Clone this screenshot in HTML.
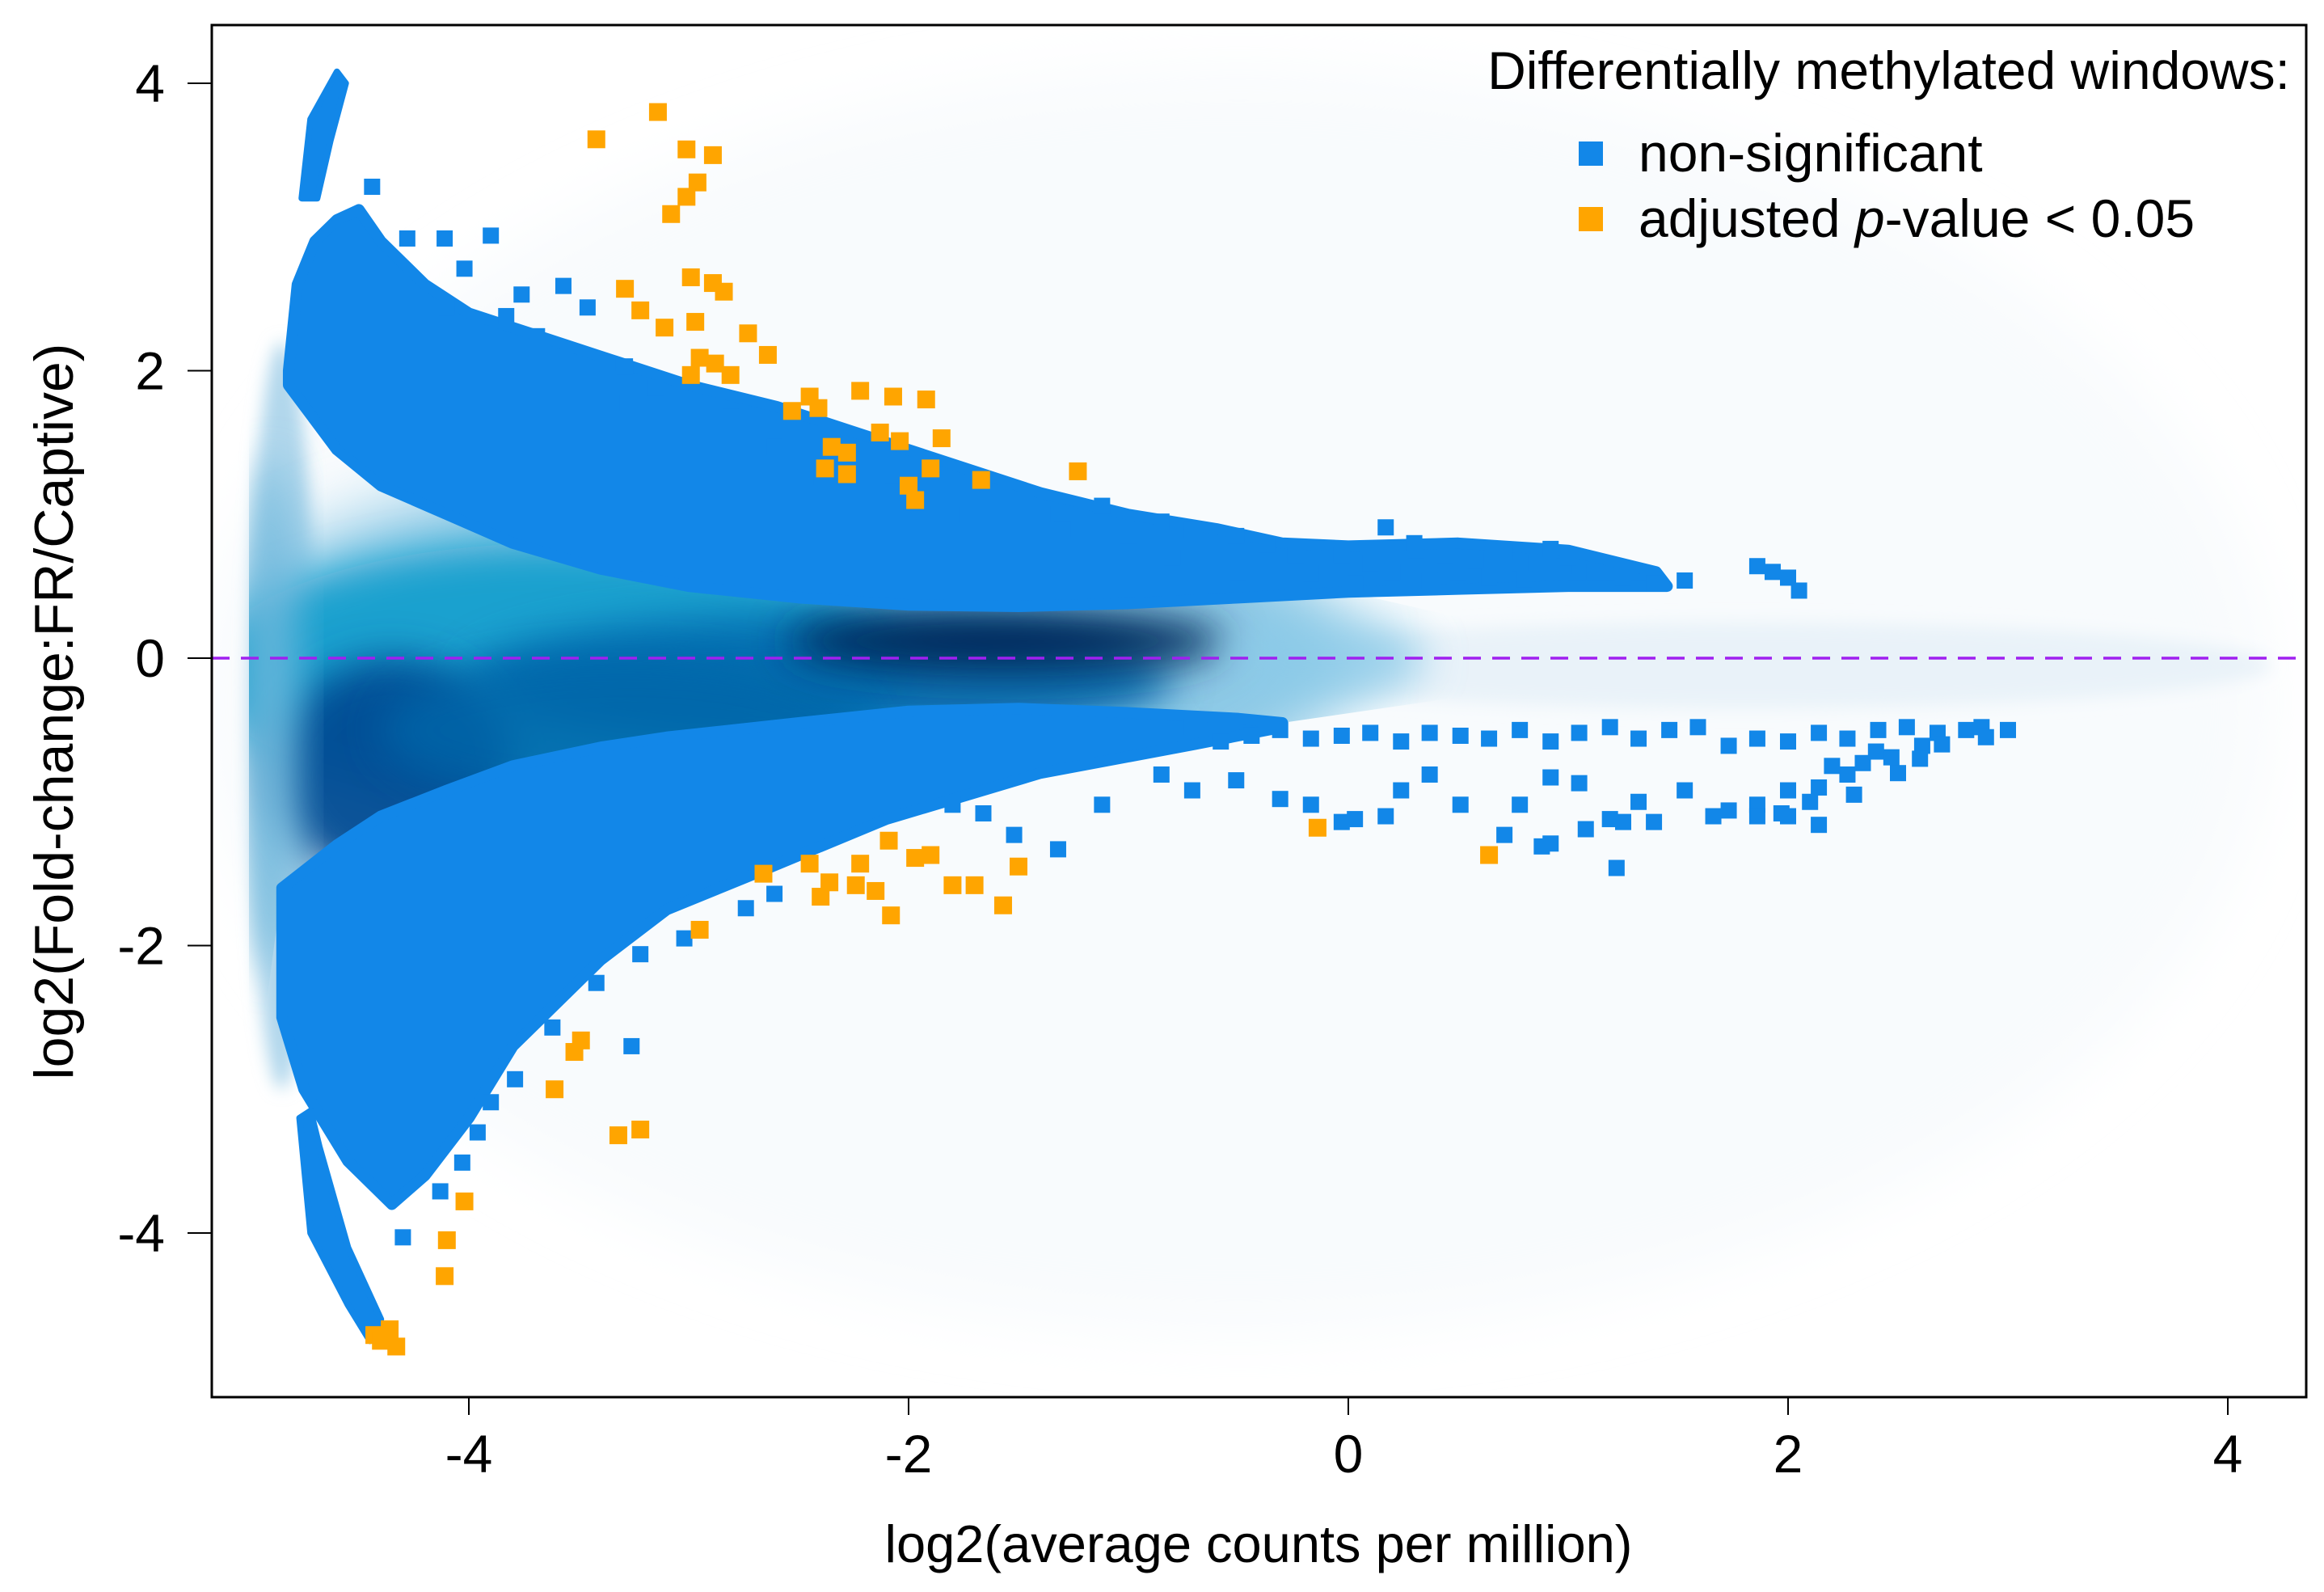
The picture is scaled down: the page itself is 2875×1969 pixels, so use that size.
<!DOCTYPE html>
<html><head><meta charset="utf-8"><style>
html,body{margin:0;padding:0;background:#fff;}
svg{display:block;font-family:"Liberation Sans",Arial,sans-serif;}
</style></head><body>
<svg id="chart" width="2875" height="1969" viewBox="0 0 2875 1969" xmlns="http://www.w3.org/2000/svg">
<defs>
<clipPath id="plotclip"><rect x="262" y="31" width="2591" height="1697"/></clipPath>
<clipPath id="gapclip"><polygon id="gappoly" points=""/></clipPath>
<filter id="blur" x="-50%" y="-50%" width="200%" height="200%"><feGaussianBlur stdDeviation="40"/></filter>
<filter id="blur2" x="-50%" y="-50%" width="200%" height="200%"><feGaussianBlur stdDeviation="25"/></filter>
<filter id="blur3" x="-50%" y="-50%" width="200%" height="200%"><feGaussianBlur stdDeviation="10"/></filter>
</defs>
<rect x="0" y="0" width="2875" height="1969" fill="#fff"/>
<g id="haze" clip-path="url(#plotclip)"></g>
<g clip-path="url(#plotclip)"><g id="density" clip-path="url(#gapclip)"></g></g>
<g id="bands" clip-path="url(#plotclip)"></g>
<g id="bluepts" clip-path="url(#plotclip)"></g>
<g id="orangepts" clip-path="url(#plotclip)"></g>
<line x1="262" y1="814" x2="2853" y2="814" stroke="#a020f0" stroke-width="3.5" stroke-dasharray="22,14"/>
<rect x="262" y="31" width="2591" height="1697" fill="none" stroke="#000" stroke-width="3"/>
<g id="xaxis"></g>
<g id="yaxis"></g>
<text x="1557" y="1932" font-size="65" text-anchor="middle">log2(average counts per million)</text>
<text transform="translate(90,880) rotate(-90)" font-size="68" text-anchor="middle">log2(Fold-change:FR/Captive)</text>
<g>
<text x="2833" y="110" font-size="66" text-anchor="end">Differentially methylated windows:</text>
<g>
<rect x="1953" y="175" width="30" height="30" fill="#1287e8"/>
<text x="2027" y="212" font-size="66">non-significant</text>
</g>
<g>
<rect x="1953" y="256" width="30" height="30" fill="#ffa500"/>
<text x="2027" y="293" font-size="66">adjusted <tspan font-style="italic">p</tspan>-value &lt; 0.05</text>
</g>
</g>
</svg>
<script>
const xTicks=[-4,-2,0,2,4];
const yTicks=[4,2,0,-2,-4];
const yTickLabels=["4","2","0","-2","-4"];
// density blobs (inside the gap between bands): centre x, centre y, spread x, spread y, colour, opacity
const densX=[-2.6,-3.6,-2.4,-4.35,-3.3,-1.55,-0.1,-4.9];
const densY=[0.0,-0.1,-0.15,-0.8,-0.5,0.12,0.0,-0.4];
const densSX=[2.6,1.6,1.6,0.55,1.1,1.0,0.45,0.12];
const densSY=[1.4,0.9,0.45,0.8,0.5,0.22,0.3,1.8];
const densC=["#8cc9e6","#0a9ccc","#0568ad","#064c93","#0565a9","#022a5c","#8ccbe8","#6fb8dc"];
const densO=[1,0.9,0.9,0.95,0.8,1,0.8,0.9];
// faint haze outside
const hazeX=[-0.5,-4.85,1.8];
const hazeY=[-0.3,-0.4,-0.05];
const hazeSX=[4.7,0.15,2.4];
const hazeSY=[4.4,2.6,0.3];
const hazeC=["#f4f8fc","#a9d3ea","#e6f0f8"];
const hazeO=[0.6,0.9,0.8];
// upper non-significant band envelope
const upX=[-4.82,-4.78,-4.7,-4.6,-4.5,-4.4,-4.2,-4.0,-3.7,-3.4,-3.0,-2.6,-2.2,-1.8,-1.4,-1.0,-0.6,-0.3,0.0,0.5,1.0,1.4,1.45];
const upOuter=[2.0,2.6,2.9,3.05,3.12,2.9,2.6,2.4,2.25,2.1,1.9,1.75,1.55,1.35,1.15,1.0,0.9,0.8,0.78,0.8,0.75,0.6,0.5];
const upInnerX=[1.45,1.0,0.5,0.0,-0.5,-1.0,-1.5,-2.0,-2.5,-3.0,-3.4,-3.8,-4.1,-4.4,-4.6,-4.82];
const upInner=[0.5,0.5,0.48,0.46,0.42,0.38,0.36,0.37,0.42,0.5,0.62,0.8,1.0,1.2,1.45,1.9];
// lower band envelope
const loX=[-4.85,-4.6,-4.4,-4.1,-3.8,-3.4,-3.1,-2.5,-2.0,-1.5,-1.0,-0.5,-0.3];
const loInner=[-1.6,-1.3,-1.1,-0.92,-0.75,-0.62,-0.55,-0.45,-0.37,-0.35,-0.38,-0.42,-0.45];
const loOuterX=[-0.3,-0.7,-1.4,-2.1,-2.7,-3.1,-3.4,-3.8,-4.0,-4.2,-4.35,-4.55,-4.75,-4.85];
const loOuter=[-0.48,-0.6,-0.8,-1.12,-1.5,-1.75,-2.1,-2.7,-3.2,-3.6,-3.8,-3.5,-3.0,-2.5];
// isolated clusters
const topBlobX=[-4.76,-4.72,-4.6,-4.56,-4.63,-4.69];
const topBlobY=[3.2,3.75,4.08,4.0,3.6,3.2];
const botBlobX=[-4.77,-4.72,-4.55,-4.45,-4.4,-4.55,-4.68,-4.72];
const botBlobY=[-3.2,-4.0,-4.5,-4.75,-4.6,-4.1,-3.4,-3.15];
// scattered non-significant windows
const blueX=[-1.12,-0.85,-0.71,-0.51,-0.37,-0.24,-0.03,0.17,0.10,0.31,0.44,0.58,0.64,0.78,0.92,0.98,1.12,1.25,1.39,1.86,1.93,2.00,2.05,1.53,0.71,0.37,-0.17,0.03,0.2,0.5,0.8,1.0,0.3,-0.5,-0.8,-1.0,-1.3,-1.5,
-4.28,-4.11,-3.90,-4.02,-3.76,-3.57,-3.46,-3.56,-3.37,-3.69,-3.83,-4.10,-3.29,-3.15,-3.35,-2.81,-2.61,-2.47,-2.07,-1.73,-1.39,-4.44,
-0.71,-0.58,-0.44,-0.31,-0.17,-0.03,0.10,0.24,0.37,0.51,0.64,0.78,0.92,1.05,1.19,1.32,1.46,1.59,1.73,1.86,2.00,2.14,2.27,2.41,2.54,2.68,2.81,2.88,
-0.85,-0.71,-0.51,-0.31,-0.17,0.03,0.24,0.37,0.51,0.78,0.92,1.05,1.19,1.32,1.39,1.53,1.66,1.73,1.86,2.00,2.14,2.27,2.34,2.47,2.61,0.71,0.92,1.08,1.25,1.22,0.88,0.17,-0.03,2.14,1.97,1.86,-1.12,-1.32,-1.52,-1.66,-1.80,
2.2,2.4,2.5,2.3,2.7,2.9,2.1,2.0,2.6,3.0,
-3.90,-3.96,-4.03,-4.13,-4.30,-3.26,-3.79,-3.62,-3.42,-3.22,-3.02,-2.74,-2.61];
const blueY=[1.06,0.95,0.89,0.85,0.79,0.72,0.72,0.91,0.66,0.64,0.72,0.68,0.56,0.66,0.76,0.64,0.60,0.56,0.52,0.64,0.60,0.56,0.47,0.54,0.74,0.54,0.59,0.52,0.6,0.6,0.55,0.7,0.8,0.6,0.7,0.85,0.9,1.0,
2.92,2.92,2.94,2.71,2.53,2.59,2.44,2.09,2.05,2.24,2.38,2.44,2.03,1.88,1.78,1.68,1.47,1.26,1.16,1.00,1.00,3.28,
-0.48,-0.58,-0.54,-0.50,-0.56,-0.54,-0.52,-0.58,-0.52,-0.54,-0.56,-0.50,-0.58,-0.52,-0.48,-0.56,-0.50,-0.48,-0.61,-0.56,-0.58,-0.52,-0.56,-0.50,-0.48,-0.52,-0.50,-0.48,
-0.81,-0.92,-0.85,-0.98,-1.02,-1.12,-0.92,-0.81,-1.02,-1.02,-0.83,-0.87,-1.12,-1.00,-1.14,-0.92,-1.10,-1.06,-1.02,-0.92,-0.90,-0.81,-0.73,-0.69,-0.61,-1.23,-1.29,-1.19,-1.14,-1.46,-1.31,-1.10,-1.14,-1.16,-1.08,-1.10,-1.02,-1.33,-1.23,-1.08,-1.02,
-0.75,-0.65,-0.8,-0.95,-0.6,-0.55,-1.0,-1.1,-0.7,-0.5,
-3.09,-3.30,-3.51,-3.71,-4.03,-2.70,-2.93,-2.57,-2.26,-2.06,-1.95,-1.74,-1.64];
// significant windows (adjusted p < 0.05)
const sigX=[-3.14,-3.42,-3.01,-2.89,-2.96,-3.01,-3.08,-2.99,-2.89,-2.84,-3.29,-3.22,-2.97,-3.11,-2.73,-2.64,-2.95,-2.88,-2.81,-2.99,-2.45,-2.22,-2.07,-1.92,-2.41,-2.53,-2.13,-2.04,-1.85,-2.35,-2.28,-2.38,-2.28,-1.67,-1.90,-2.00,-1.97,-1.23,
-2.45,-2.66,-2.36,-2.22,-2.09,-2.40,-2.24,-2.15,-1.90,-1.97,-1.80,-1.70,-1.50,-1.57,-2.08,-2.95,-3.49,-3.52,-3.61,-3.32,-3.22,-4.02,-4.10,-4.11,-4.43,-4.36,-4.40,-4.33,-0.14,0.64];
const sigY=[3.80,3.61,3.54,3.50,3.31,3.21,3.09,2.65,2.61,2.55,2.57,2.42,2.34,2.30,2.26,2.11,2.09,2.05,1.97,1.97,1.82,1.86,1.82,1.80,1.74,1.72,1.57,1.51,1.53,1.47,1.43,1.32,1.28,1.24,1.32,1.20,1.10,1.30,
-1.43,-1.50,-1.56,-1.43,-1.27,-1.66,-1.58,-1.62,-1.37,-1.39,-1.58,-1.58,-1.45,-1.72,-1.79,-1.89,-2.66,-2.74,-3.00,-3.32,-3.28,-3.78,-4.05,-4.30,-4.71,-4.67,-4.75,-4.79,-1.18,-1.37];

const NS="http://www.w3.org/2000/svg";
const X=v=>1668+v*272;
const Y=v=>814-v*177.75;
const mk=(tag,parent)=>{const e=document.createElementNS(NS,tag);parent.appendChild(e);return e;};

// gap clip polygon between the bands
(function(){
  const pts=[X(-5.0)+','+Y(2.0)];
  for(let i=upInnerX.length-1;i>=0;i--){ if(upInnerX[i]<=0.1) pts.push(X(upInnerX[i])+','+Y(upInner[i])); }
  pts.push(X(0.6)+','+Y(0.25));pts.push(X(0.6)+','+Y(-0.25));
  for(let i=loX.length-1;i>=0;i--) pts.push(X(loX[i])+','+Y(loInner[i]));
  pts.push(X(-5.0)+','+Y(-3.3));
  document.getElementById('gappoly').setAttribute('points',pts.join(' '));
})();

const haze=document.getElementById('haze');
for(let i=0;i<hazeX.length;i++){
  const e=mk('ellipse',haze);
  
  
  e.setAttribute('cx',X(hazeX[i]));e.setAttribute('cy',Y(hazeY[i]));
  e.setAttribute('rx',hazeSX[i]*272);e.setAttribute('ry',hazeSY[i]*177.75);
  e.setAttribute('fill',hazeC[i]);e.setAttribute('fill-opacity',hazeO[i]);
  e.setAttribute('filter',i===0?'url(#blur)':'url(#blur3)');
}
const dens=document.getElementById('density');
for(let i=0;i<densX.length;i++){
  const e=mk('ellipse',dens);
  
  
  e.setAttribute('cx',X(densX[i]));e.setAttribute('cy',Y(densY[i]));
  e.setAttribute('rx',densSX[i]*272);e.setAttribute('ry',densSY[i]*177.75);
  e.setAttribute('fill',densC[i]);e.setAttribute('fill-opacity',densO[i]);
  e.setAttribute('filter',i===0?'url(#blur)':'url(#blur2)');
}

const bands=document.getElementById('bands');
function poly(xs1,ys1,xs2,ys2,name,sw){
  const pts=[];
  for(let i=0;i<xs1.length;i++)pts.push(X(xs1[i])+','+Y(ys1[i]));
  if(xs2)for(let i=0;i<xs2.length;i++)pts.push(X(xs2[i])+','+Y(ys2[i]));
  const p=mk('polygon',bands);
  
  
  p.setAttribute('points',pts.join(' '));
  p.setAttribute('fill','#1287e8');p.setAttribute('stroke','#1287e8');p.setAttribute('stroke-width',sw);p.setAttribute('stroke-linejoin','round');
}
poly(upX,upOuter,upInnerX,upInner,'upper-nonsig-band',14);
poly(loX,loInner,loOuterX,loOuter,'lower-nonsig-band',14);
poly(topBlobX,topBlobY,null,null,'top-left-cluster',8);
poly(botBlobX,botBlobY,null,null,'bottom-left-cluster',8);

const bp=document.getElementById('bluepts');
for(let i=0;i<blueX.length;i++){
  const r=mk('rect',bp);
  
  
  r.setAttribute('x',X(blueX[i])-10);r.setAttribute('y',Y(blueY[i])-10);
  r.setAttribute('width',20);r.setAttribute('height',20);r.setAttribute('fill','#1287e8');
}
const op=document.getElementById('orangepts');
for(let i=0;i<sigX.length;i++){
  const r=mk('rect',op);
  
  
  r.setAttribute('x',X(sigX[i])-11);r.setAttribute('y',Y(sigY[i])-11);
  r.setAttribute('width',22);r.setAttribute('height',22);r.setAttribute('fill','#ffa500');
}

const xa=document.getElementById('xaxis');
xTicks.forEach(t=>{
  const l=mk('line',xa);
  
  
  l.setAttribute('x1',X(t));l.setAttribute('x2',X(t));l.setAttribute('y1',1728);l.setAttribute('y2',1750);l.setAttribute('stroke','#000');l.setAttribute('stroke-width','2');
  const tx=mk('text',xa);
  
  
  tx.setAttribute('x',X(t));tx.setAttribute('y',1821);tx.setAttribute('font-size','66');tx.setAttribute('text-anchor','middle');
  tx.textContent=String(t);
});
const ya=document.getElementById('yaxis');
yTicks.forEach((t,i)=>{
  const l=mk('line',ya);
  
  
  l.setAttribute('x1',232);l.setAttribute('x2',262);l.setAttribute('y1',Y(t));l.setAttribute('y2',Y(t));l.setAttribute('stroke','#000');l.setAttribute('stroke-width','2');
  const tx=mk('text',ya);
  
  
  tx.setAttribute('x',204);tx.setAttribute('y',Y(t)+23);tx.setAttribute('font-size','66');tx.setAttribute('text-anchor','end');
  tx.textContent=yTickLabels[i];
});
</script>
</body></html>
